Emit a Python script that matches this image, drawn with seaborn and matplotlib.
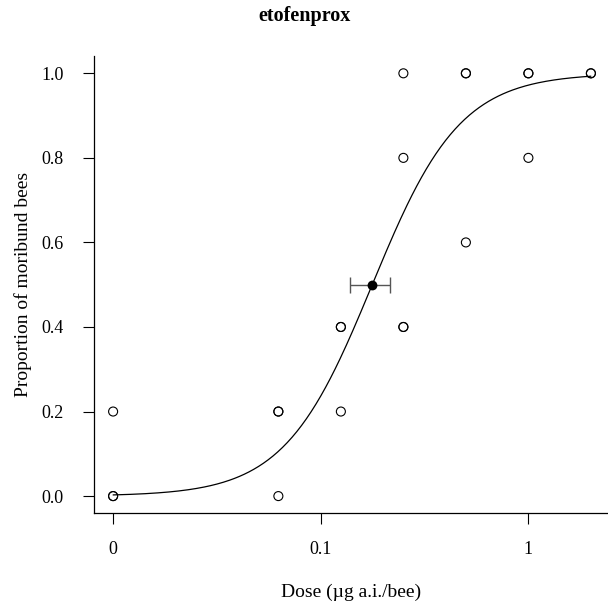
import numpy as np
import pandas as pd
import matplotlib
matplotlib.use("Agg")
import matplotlib.pyplot as plt
import seaborn as sns

# Observed proportions per dose (µg a.i./bee); dose 0 is shown at the axis break
doses = [0, 0, 0, 0.0625, 0.0625, 0.0625, 0.125, 0.125, 0.125,
         0.25, 0.25, 0.25, 0.25, 0.5, 0.5, 0.5, 1, 1, 1, 2, 2]
proportions = [0.0, 0.0, 0.2, 0.0, 0.2, 0.2, 0.2, 0.4, 0.4,
               0.4, 0.4, 0.8, 1.0, 0.6, 1.0, 1.0, 0.8, 1.0, 1.0, 1.0, 1.0]

# Fitted two-parameter log-logistic model
ed50 = 0.177
ed50_ci = [0.138, 0.215]
slope = 2.05
zero_position = 0.01

x_ticks = [0.01, 0.1, 1]
x_tick_labels = ["0", "0.1", "1"]
y_ticks = [0.0, 0.2, 0.4, 0.6, 0.8, 1.0]
y_tick_labels = ["0.0", "0.2", "0.4", "0.6", "0.8", "1.0"]

sns.set_theme(style="ticks")
plt.rcParams["font.family"] = ["Liberation Serif", "DejaVu Serif"]

fig = plt.figure(figsize=(6.08, 6.08), dpi=100)
W = H = 608.0
ax_left, ax_bottom, ax_right, ax_top = 94, 513, 610, 56.4
ax = fig.add_axes([ax_left / W, (H - ax_bottom) / H,
                   (ax_right - ax_left) / W, (ax_bottom - ax_top) / H])

obs = pd.DataFrame({
    "dose": [d if d > 0 else zero_position for d in doses],
    "prop": proportions,
})

grid = np.logspace(np.log10(zero_position), np.log10(2), 300)
curve = pd.DataFrame({"dose": grid, "prop": 1.0 / (1.0 + (grid / ed50) ** (-slope))})

sns.lineplot(data=curve, x="dose", y="prop", ax=ax, color="black", linewidth=0.9)
sns.scatterplot(data=obs, x="dose", y="prop", ax=ax, marker="o", s=42,
                facecolor="none", edgecolor="black", linewidth=0.8, zorder=3)

ax.errorbar([ed50], [0.5], xerr=[[ed50 - ed50_ci[0]], [ed50_ci[1] - ed50]],
            fmt="none", ecolor="#555555", elinewidth=1.0, capsize=6, capthick=1.0, zorder=3)
sns.scatterplot(x=[ed50], y=[0.5], ax=ax, color="black", s=50, edgecolor="black",
                linewidth=0, zorder=4)

ax.set_xscale("log")
ax.set_xlim(10 ** -2.092, 10 ** 0.393)
ax.set_ylim(-0.04, 1.04)
ax.set_xticks(x_ticks)
ax.set_xticklabels(x_tick_labels)
ax.minorticks_off()
ax.set_yticks(y_ticks)
ax.set_yticklabels(y_tick_labels)
ax.tick_params(axis="both", direction="out", length=8, width=0.8, color="black",
               labelsize=13, labelcolor="black")
ax.tick_params(axis="x", pad=12)
ax.tick_params(axis="y", pad=14)

for side in ["top", "right"]:
    ax.spines[side].set_visible(False)
for side in ["left", "bottom"]:
    ax.spines[side].set_color("black")
    ax.spines[side].set_linewidth(0.9)

ax.set_xlabel("Dose (µg a.i./bee)", fontsize=14, color="black", va="center")
ax.set_ylabel("Proportion of moribund bees", fontsize=14, color="black", va="center")
ax.xaxis.set_label_coords(0.5 - (ax_right - ax_left - 2 * (351 - ax_left)) / (2 * (ax_right - ax_left)),
                          -(592 - ax_bottom) / (ax_bottom - ax_top))
ax.yaxis.set_label_coords(-(ax_left - 23) / (ax_right - ax_left), 0.5)

fig.text(305 / W, 1 - 16 / H, "etofenprox", ha="center", va="center",
         fontsize=14.5, fontweight="bold", color="black")

fig.savefig("out.png", dpi=100, facecolor="white")
